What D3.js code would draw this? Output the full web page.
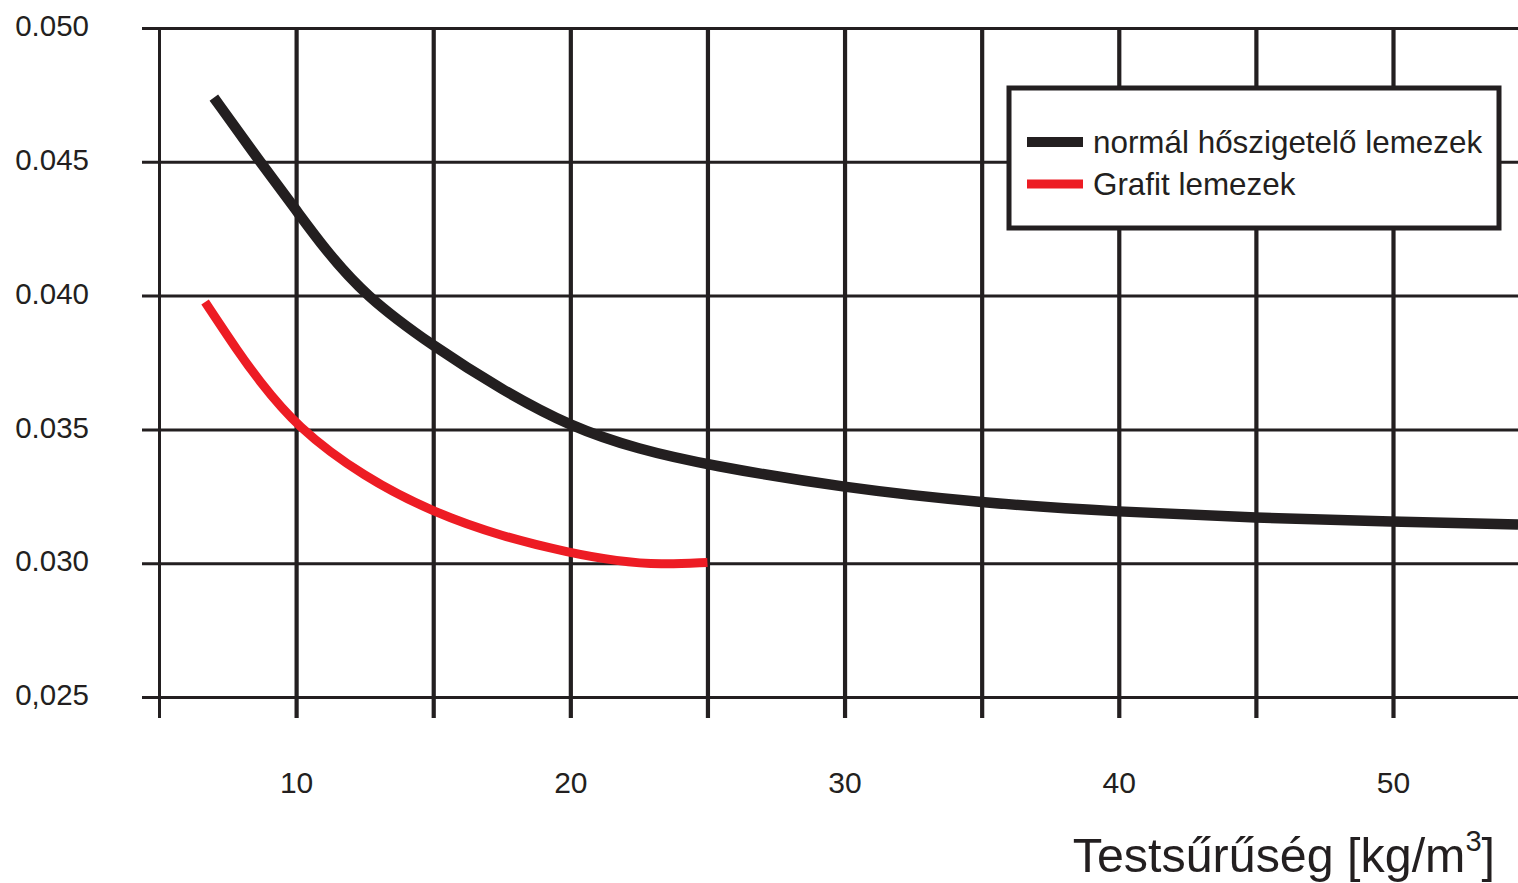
<!DOCTYPE html>
<html>
<head>
<meta charset="utf-8">
<script src="https://cdn.jsdelivr.net/npm/d3@7/dist/d3.min.js"></script>
<style>
  html, body { margin: 0; padding: 0; background: #fff; }
  svg { display: block; }
  text { font-family: "Liberation Sans", Arial, Helvetica, sans-serif; fill: #231f20; }
</style>
</head>
<body>
<svg id="chart" width="1518" height="883"></svg>
<script>
// ---- data ----
const xTicks = [5, 10, 15, 20, 25, 30, 35, 40, 45, 50];
const xTickLabels = ["", "10", "", "20", "", "30", "", "40", "", "50"];
const yTicks = [0.050, 0.045, 0.040, 0.035, 0.030, 0.025];
const yTickLabels = ["0.050", "0.045", "0.040", "0.035", "0.030", "0,025"];

const densNormal   = [7, 8.68, 10, 11, 12.5, 15, 17.5, 20, 22.5, 25, 30, 35, 40, 45, 50, 54.56];
const lambdaNormal = [0.0474, 0.0450, 0.0432, 0.0418, 0.0400, 0.0381, 0.03648, 0.0351, 0.03425, 0.03367, 0.03281, 0.03225, 0.03192, 0.03169, 0.03155, 0.03145];

const densGrafit   = [6.68, 7.95, 8.56, 10, 12.5, 15, 17.5, 20, 21.7, 23.3, 25];
const lambdaGrafit = [0.03976, 0.0378, 0.03695, 0.0351, 0.0332, 0.0319, 0.0310, 0.03038, 0.03008, 0.02994, 0.03003];

const seriesNames = ["normál hőszigetelő lemezek", "Grafit lemezek"];
const seriesColors = ["#231f20", "#ed1c24"];

// ---- layout ----
const svg = d3.select("#chart");
const x = d3.scaleLinear().domain([5, 50]).range([159, 1393]);
const y = d3.scaleLinear().domain([0.025, 0.050]).range([697, 28]);
const ink = "#231f20";

// vertical grid (x axis)
const xAxis = d3.axisBottom(x)
  .tickValues(xTicks)
  .tickSize(-(718 - 28))
  .tickPadding(54)
  .tickFormat((d, i) => xTickLabels[i]);
const gx = svg.append("g").attr("transform", "translate(0,718)").call(xAxis);
gx.select(".domain").remove();
gx.selectAll(".tick line").attr("stroke", ink).attr("stroke-width", (d, i) => i === 0 ? 3 : 4.2);
gx.selectAll(".tick text").attr("font-size", 30).attr("fill", ink)
  .style("font-family", "'Liberation Sans', Arial, sans-serif");

// horizontal grid (y axis)
const yAxis = d3.axisLeft(y)
  .tickValues(yTicks)
  .tickSize(1518 - 142)
  .tickPadding(53)
  .tickFormat((d, i) => yTickLabels[i]);
const gy = svg.append("g").attr("transform", "translate(1518,0)").call(yAxis);
gy.select(".domain").remove();
gy.selectAll(".tick line").attr("stroke", ink).attr("stroke-width", 3);
gy.selectAll(".tick text").attr("font-size", 29.5).attr("fill", ink).attr("dy", "0.26em")
  .style("font-family", "'Liberation Sans', Arial, sans-serif");

// curves
const line = d3.line().x(d => x(d[0])).y(d => y(d[1])).curve(d3.curveBasis);
const normalPts = densNormal.map((d, i) => [d, lambdaNormal[i]]);
const grafitPts = densGrafit.map((d, i) => [d, lambdaGrafit[i]]);

svg.append("path").datum(normalPts).attr("d", line)
  .attr("fill", "none").attr("stroke", seriesColors[0]).attr("stroke-width", 10.5);
svg.append("path").datum(grafitPts).attr("d", line)
  .attr("fill", "none").attr("stroke", seriesColors[1]).attr("stroke-width", 9);

// legend
const lg = svg.append("g");
lg.append("rect").attr("x", 1009).attr("y", 88).attr("width", 490).attr("height", 140)
  .attr("fill", "#fff").attr("stroke", ink).attr("stroke-width", 5);
const legendY = [142, 184];
seriesNames.forEach((name, i) => {
  lg.append("line").attr("x1", 1027).attr("x2", 1083).attr("y1", legendY[i]).attr("y2", legendY[i])
    .attr("stroke", seriesColors[i]).attr("stroke-width", i === 0 ? 10 : 9);
  lg.append("text").attr("x", 1093).attr("y", legendY[i] + 10.5)
    .attr("font-size", 31.4).attr("fill", ink).text(name);
});

// axis title
const title = svg.append("text").attr("x", 1495).attr("y", 872)
  .attr("text-anchor", "end").attr("font-size", 48.4).attr("fill", ink);
title.append("tspan").text("Testsűrűség [kg/m");
title.append("tspan").attr("font-size", 29).attr("dy", -21).text("3");
title.append("tspan").attr("dy", 21).text("]");
</script>
</body>
</html>
